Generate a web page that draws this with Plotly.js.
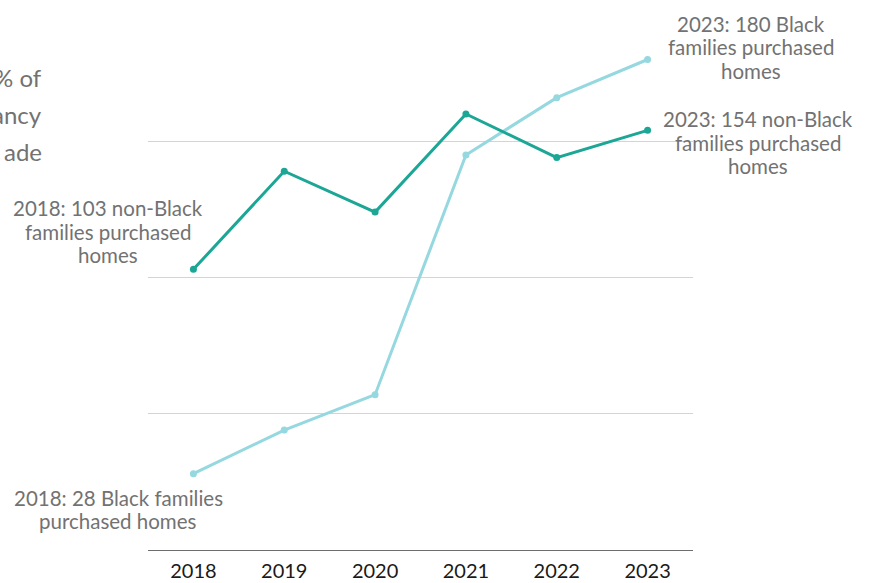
<!DOCTYPE html>
<html><head><meta charset="utf-8">
<script src="https://cdn.plot.ly/plotly-3.0.1.min.js"></script>
<style>html,body{margin:0;padding:0;background:#fff;}#chart{width:876px;height:583px;}</style>
</head><body><div id="chart"></div>
<script>
const years = [2018, 2019, 2020, 2021, 2022, 2023];
const nonBlack = [103, 139, 124, 160, 144, 154];
const black = [28, 44, 57, 145, 166, 180];
const tickLabels = ['2018', '2019', '2020', '2021', '2022', '2023'];
const labelNonBlack2018 = ['2018: 103 non-Black', 'families purchased', 'homes'];
const labelBlack2018 = ['2018: 28 Black families', 'purchased homes'];
const labelBlack2023 = ['2023: 180 Black', 'families purchased', 'homes'];
const labelNonBlack2023 = ['2023: 154 non-Black', 'families purchased', 'homes'];
const clippedLines = ['% of', 'ancy', 'ade'];

const dark = '#1ba696';
const light = '#95d8df';
const grey = '#727272';

const traces = [
  {x: years, y: black, type: 'scatter', mode: 'lines+markers',
   line: {color: light, width: 3}, marker: {color: light, size: 7}, cliponaxis: false},
  {x: years, y: nonBlack, type: 'scatter', mode: 'lines+markers',
   line: {color: dark, width: 3}, marker: {color: dark, size: 7}, cliponaxis: false}
];

const annFont = {family: 'Lato, sans-serif', size: 20.5, color: grey};
const LINE = 23.5;
const annotations = [];
function addLabel(lines, xIdx, yVal, dx, dyFirst) {
  lines.forEach(function (t, i) {
    annotations.push({x: years[xIdx], y: yVal, xref: 'x', yref: 'y', text: t,
      showarrow: false, xshift: dx, yshift: dyFirst - i * LINE,
      xanchor: 'center', yanchor: 'middle', font: annFont});
  });
}
addLabel(labelNonBlack2018, 0, nonBlack[0], -85, 61);
addLabel(labelBlack2018, 0, black[0], -75, -24);
addLabel(labelBlack2023, 5, black[5], 103, 36);
addLabel(labelNonBlack2023, 5, nonBlack[5], 110, 11);

clippedLines.forEach(function (t, i) {
  annotations.push({x: -0.19, y: [0.867, 0.799, 0.731][i], xref: 'paper', yref: 'paper', text: t,
    showarrow: false, xanchor: 'right', yanchor: 'middle', align: 'right',
    font: {family: 'Lato, sans-serif', size: 24, color: grey}});
});

const layout = {
  width: 876, height: 583,
  margin: {l: 148, r: 183, t: 5, b: 33},
  paper_bgcolor: '#fff', plot_bgcolor: '#fff',
  showlegend: false,
  font: {family: 'Lato, sans-serif'},
  xaxis: {range: [2017.5, 2023.5], tickvals: years, ticktext: tickLabels,
    showgrid: false, zeroline: false, showline: false, ticks: '',
    ticklabelstandoff: 7,
    tickfont: {family: 'Lato, sans-serif', size: 20, color: '#1a1a1a'}},
  yaxis: {range: [0, 200], tickvals: [0, 50, 100, 150, 200], showticklabels: false,
    showgrid: true, gridcolor: '#d4d4d4', gridwidth: 1, zeroline: true,
    zerolinecolor: '#6e6e6e', zerolinewidth: 1, showline: false, ticks: ''},
  annotations: annotations
};
Plotly.newPlot('chart', traces, layout, {displayModeBar: false, staticPlot: true});
</script></body></html>
